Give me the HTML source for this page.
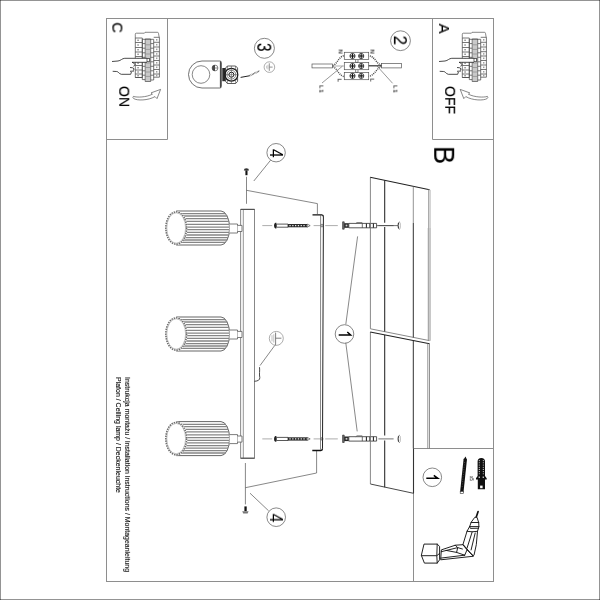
<!DOCTYPE html>
<html>
<head>
<meta charset="utf-8">
<title>Installation instructions</title>
<style>
html,body{margin:0;padding:0;background:#fff;}
body{width:600px;height:600px;overflow:hidden;font-family:"Liberation Sans",sans-serif;}
svg{display:block;will-change:transform;}
text{will-change:transform;}
.dg{stroke:#000;stroke-width:.1;}
.bl{stroke:#000;stroke-width:.12;}
text{font-family:"Liberation Sans",sans-serif;fill:#000;}
.f{fill:none;stroke:#8e8e8e;stroke-width:1;}
.l{fill:none;stroke:#555;stroke-width:.7;}
.g{fill:none;stroke:#8a8a8a;stroke-width:.7;}
.d{fill:none;stroke:#222;stroke-width:1;}
.p{fill:none;stroke:#4a4a4a;stroke-width:.75;}
.w{fill:#fff;stroke:#555;stroke-width:.7;}
</style>
</head>
<body>
<svg width="600" height="600" viewBox="0 0 600 600">
<defs>
<!-- lamp shade, centred on y=0 -->
<g id="lamp">
  <path d="M176.2,-17 H221 A8.6,17 0 0 1 221,17 H176.2Z" fill="#fff" stroke="#4a4a4a" stroke-width=".85"/>
  <path d="M181.3,-14.3H225.8 M183.1,-12H227.2 M184.6,-9.3H228.2 M185.5,-6.7H228.9 M186.1,-3.7H229.4 M186.4,-0.9H229.6 M186.3,1.7H229.6 M186.0,4.3H229.3 M185.4,7H228.9 M184.4,9.6H228.1 M183.1,12H227.2 M181.2,14.4H225.7" fill="none" stroke="#868686" stroke-width="1.3"/>
  <ellipse cx="176.2" cy="0" rx="11.2" ry="17" fill="#fff"/>
  <ellipse cx="176.2" cy="0" rx="10.3" ry="16.1" fill="none" stroke="#6e6e6e" stroke-width="1.7" stroke-dasharray="1.5 .9"/>
  <ellipse cx="176.2" cy="0" rx="9.4" ry="15.2" fill="#fff" stroke="#8a8a8a" stroke-width=".5"/>
  <path d="M229.6,-4H237.5V5H229.6" fill="#fff" stroke="#5a5a5a" stroke-width=".8"/>
  <path d="M237.5,-2.6H242V3.5H237.5" fill="#fff" stroke="#5a5a5a" stroke-width=".8"/>
</g>
<!-- breaker panel + hand (box C coordinates) -->
<g id="panel">
  <path class="l" d="M135.3,38V34.2Q135.3,33.2 136.3,33.2H144.4L145,32.3H157.4Q158.4,32.3 158.5,33.4L159.2,37.3"/>
  <rect x="145.2" y="39" width="5.5" height="42.5" fill="#ececec"/>
  <path class="p" d="M135.3,38V77.5H142.3V38 M135.3,38H142.3 M135.3,42.5H142.3 M135.3,47.5H142.3 M135.3,52H142.3 M135.3,56.5H142.3 M135.3,61H142.3 M135.3,65.5H142.3 M135.3,70H142.3 M135.3,74H142.3 M135.3,77.5H142.3"/>
  <path class="p" d="M153.7,37.3H159.4V77.2H153.7 M153.7,42.3H159.4 M153.7,47H159.4 M153.7,51.7H159.4 M153.7,56H159.4 M153.7,60.5H159.4 M153.7,65H159.4 M153.7,69.5H159.4 M153.7,74H159.4"/>
  <path class="p" d="M142.3,39.3V79.6H145.2 M153.7,39.3V80H150.7 M145.2,39H150.7V81.5H145.2Z M142.3,39.3H153.7"/>
  <path class="p" d="M142.3,43.6H145.2 M142.3,48.2H145.2 M142.3,52.8H145.2 M142.3,57.3H145.2 M142.3,61.8H145.2 M142.3,66.3H145.2 M142.3,70.8H145.2 M142.3,75.2H145.2 M150.7,43.6H153.7 M150.7,48.2H153.7 M150.7,52.8H153.7 M150.7,57.3H153.7 M150.7,61.8H153.7 M150.7,66.3H153.7 M150.7,70.8H153.7 M150.7,75.2H153.7"/>
  <path class="g" d="M147,39V81.5 M149,39V81.5 M145.2,44.800000000000004H150.7 M145.2,49.400000000000006H150.7 M145.2,54.0H150.7 M145.2,58.5H150.7 M145.2,63.0H150.7 M145.2,67.5H150.7 M145.2,72.0H150.7 M145.2,76.4H150.7"/>
  <path class="p" d="M137.2,40.2h1.8 M137.2,45.0h1.8 M137.2,49.8h1.8 M137.2,54.2h1.8 M137.2,58.8h1.8 M137.2,63.2h1.8 M137.2,67.8h1.8 M137.2,72.0h1.8 M137.2,75.8h1.8 M156.8,39.0v1.6 M156.8,43.9v1.6 M156.8,48.6v1.6 M156.8,53.1v1.6 M156.8,57.5v1.6 M156.8,62.0v1.6 M156.8,66.5v1.6 M156.8,71.0v1.6 M156.8,74.8v1.6"/>
  <!-- hand -->
  <path d="M112,61.5L118,61C121,60.6 122,58.4 124.8,58.3H147.4V62.3H132L134.7,64.3L135.3,66L134,68.7L134,71L131.3,72.4L130.7,74.3H121.3C118.6,73.6 118.6,71.6 116.7,71.5L112.7,71.3Z" fill="#fff"/>
  <path d="M112,61.5L118,61C121,60.6 122,58.4 124.8,58.3H147 M132,62.3H147 M132,62.3Q134.2,62.8 134.8,64.4Q135.4,66 133.4,66.2 M130,67.5Q133,67.4 134,68.7Q134.4,70 133,70.2 M130,71.3L134,71 M112.7,71.3L116.7,71.5C118.6,71.6 118.6,73.6 121.3,74.3H130.7L131.4,72" fill="none" stroke="#2a2a2a" stroke-width=".85"/>
  <rect x="147" y="58.5" width="2.5" height="3.2" fill="#fff" stroke="#333" stroke-width=".7"/>
</g>
<!-- wall plug assembly, centred on y=0 -->
<g id="plug">
  <path class="g" d="M262.3,0H272.2 M313.6,0H320.4 M325.2,0H337.8"/>
  <path d="M378.4,0H393.6" fill="none" stroke="#444" stroke-width=".75"/>
  <path d="M276.4,-2.8H275.4Q274,-2.4 274,0Q274,2.4 275.4,2.8H276.4Z" fill="#222"/>
  <path d="M276.4,-1.5H288V1.6H276.4Z" fill="#fff" stroke="#222" stroke-width=".75"/>
  <path d="M288,-1.6H307.2V1.7H288Z" fill="#2a2a2a"/>
  <path d="M289.4,0H306.6" stroke="#e6e6e6" stroke-width="1.3" stroke-dasharray="1.3 1.5" fill="none"/>
  <path d="M307.2,-1.5L310.2,0L307.2,1.6Z" fill="#fff" stroke="#333" stroke-width=".6"/>
  <path d="M342.6,-3.8H344.2V3.6H342.6Z" fill="#777" stroke="#222" stroke-width=".6"/>
  <path d="M344.2,-2.4H348.8V2.2H344.2Z" fill="#222"/><rect x="345.6" y="-1" width="1.8" height="1.8" fill="#ccc"/>
  <path d="M348.8,-2.2H376.6V2.2H348.8Z" fill="#fff" stroke="#2e2e2e" stroke-width=".8"/>
  <path d="M362.3,-2.2V2.2" fill="none" stroke="#333" stroke-width=".7"/><path d="M366.4,-2.2V2.2 M369.9,-2.2V2.2 M373.4,-2.2V2.2" fill="none" stroke="#222" stroke-width="1.05"/><path class="l" d="M355.8,-2.2L357,-3.1H362.3"/>
  <path d="M399.4,-3.5A1.3,3.5 0 0 0 399.4,3.5" fill="none" stroke="#222" stroke-width="1"/><path d="M399.4,-3.5A1,3.5 0 0 1 399.4,3.5" fill="none" stroke="#777" stroke-width=".5"/>
  <ellipse cx="322" cy="0" rx=".9" ry="1.5" fill="none" stroke="#333" stroke-width=".6"/>
</g>
</defs>

<rect width="600" height="600" fill="#fff"/>
<!-- outer page border -->
<path d="M0,.5H600 M0,599.5H600 M.5,0V600 M599.5,0V600" fill="none" stroke="#000" stroke-opacity=".42" stroke-width="1"/>
<!-- inner frame -->
<rect class="f" x="106.5" y="18.5" width="387" height="563"/>
<!-- box C -->
<path class="f" d="M106.5,139.5H167.5V18.5"/>
<!-- box A -->
<path class="f" d="M493.5,139.5H432.5V18.5"/>
<!-- box 1 -->
<path class="f" d="M493.5,448.5H413.5V581.5"/>

<!-- ===== box C ===== -->
<text class="bl" transform="translate(112.4,22.4) rotate(90)" font-size="14.5">C</text>
<use href="#panel"/>
<text class="bl" transform="translate(119.3,86) rotate(90)" font-size="14">ON</text>
<path class="l" d="M133.4,96.4C137,97.6 146,97.4 152.4,94.2L151,92.9L160.6,89.4L157,98.6L155,96.6C148,100.6 137,100.8 133.6,98.5Q132.3,97.4 133.4,96.4Z"/>

<!-- ===== part 3 ===== -->
<path d="M202,61H219.8Q221.5,61 221.5,62.6V86.4Q221.5,88 219.8,88H202A13.5,13.5 0 0 1 202,61Z" fill="#fff" stroke="#444" stroke-width=".75"/>
<path d="M220.4,61.4V87.6" fill="none" stroke="#333" stroke-width="1"/>
<circle class="l" cx="201" cy="74.5" r="8.8"/>
<circle class="l" cx="215" cy="68" r="2.9"/>
<path d="M215,65.1A2.9,2.9 0 0 0 215,70.9Z" fill="#444"/>
<path class="l" d="M212.1,68H217.9"/>
<rect x="222.3" y="68" width="3.6" height="13.2" fill="#2a2a2a"/>
<path d="M227.4,66H235.6L237.6,68V81.4L235.6,83.5H227.4L225.6,81.4V68Z" fill="#fff" stroke="#333" stroke-width=".8"/>
<path d="M225.6,70H227.4V66 M237.6,70H235.6V66 M225.6,79.4H227.4V83.5 M237.6,79.4H235.6V83.5" fill="none" stroke="#444" stroke-width=".6"/>
<circle cx="231.4" cy="74.7" r="6.4" fill="none" stroke="#1a1a1a" stroke-width="1.2"/>
<circle cx="231.4" cy="74.7" r="4.4" fill="none" stroke="#555" stroke-width=".7"/>
<circle cx="231.4" cy="74.7" r="2.5" fill="none" stroke="#1a1a1a" stroke-width="1"/>
<path d="M231.4,66V83.5 M225.6,74.7H237.6" fill="none" stroke="#555" stroke-width=".6"/>
<path class="d" d="M240.6,77.4L249.4,75.8" stroke-width="1"/>
<path d="M249.4,75.8L259.6,70.8" fill="none" stroke="#4a4a4a" stroke-width="1.6" stroke-dasharray=".7 .7"/>
<circle class="l" cx="264.4" cy="48.3" r="10"/>
<text class="dg" transform="translate(257.3,43) rotate(90)" font-size="19.5" textLength="8.6" lengthAdjust="spacingAndGlyphs">3</text>
<circle class="g" cx="269.4" cy="67.1" r="5.3"/>
<path d="M266.6,65.7V68.5 M267.9,64.8V69.4" fill="none" stroke="#999" stroke-width=".55"/><path d="M269.3,63.3V70.9 M269.3,67.1H272.6" fill="none" stroke="#777" stroke-width=".8"/>

<!-- ===== part 2 ===== -->
<circle class="l" cx="400.5" cy="40.7" r="9.9"/>
<text class="dg" transform="translate(393.9,35.6) rotate(90)" font-size="18.6" textLength="9.4" lengthAdjust="spacingAndGlyphs">2</text>
<g id="term">
<rect class="w" x="344.3" y="52.3" width="24.4" height="7.3"/>
<rect class="w" x="344.3" y="62.4" width="24.4" height="7.3"/>
<rect class="w" x="344.3" y="72.4" width="24.4" height="7.3"/>
<path class="l" d="M355.6,59.6V62.4H358V59.6 M355.6,69.7V72.4H358V69.7"/>
</g>
<g id="scr">
<circle cx="352.5" cy="56" r="2.6" fill="#fff" stroke="#2a2a2a" stroke-width=".85"/><path d="M352.5,53.6V58.4" stroke="#111" stroke-width="1.05"/><path d="M350.1,56H354.9" stroke="#111" stroke-width="1.2"/>
</g>
<use href="#scr" x="8.7"/>
<use href="#scr" y="10"/><use href="#scr" x="8.7" y="10"/>
<use href="#scr" y="19.9"/><use href="#scr" x="8.7" y="19.9"/>
<rect class="w" x="312" y="64" width="20.6" height="3.9"/>
<rect class="w" x="381.4" y="63.6" width="20" height="4.3"/>
<path d="M332.6,65.4C337,64.6 338.6,56.4 344.3,55.6" fill="none" stroke="#444" stroke-width="1.5" stroke-dasharray="1 1"/>
<path class="g" d="M332.6,66H344.3"/>
<path d="M332.6,66.8C337,67.6 338.6,75.8 344.3,76.6" fill="none" stroke="#4a4a4a" stroke-width="1.4" stroke-dasharray="1 1"/>
<path d="M381.4,65.2C377,64.4 374.6,56.4 368.7,55.6" fill="none" stroke="#444" stroke-width="1.5" stroke-dasharray="1 1"/>
<path d="M381.4,65.8H368.7" fill="none" stroke="#333" stroke-width="1.2"/>
<path d="M381.4,66.6C377,67.4 374.6,75.6 368.7,76.4" fill="none" stroke="#4a4a4a" stroke-width="1.4" stroke-dasharray="1 1"/>
<path d="M322,83L342.4,66.2 M392.6,83.3L376.8,65.8" fill="none" stroke="#606060" stroke-width=".65"/>
<g font-size="5.4" fill="#111" stroke="#111" stroke-width=".15">
<text transform="translate(338.6,49.6) rotate(90)">N</text>
<text transform="translate(370.4,49.6) rotate(90)">N</text>
<text transform="translate(337.6,78.8) rotate(90)">L</text>
<text transform="translate(370.2,78.6) rotate(90)">L</text>
<text transform="translate(319.4,85.4) rotate(90)">L 1</text>
<text transform="translate(393.4,85.4) rotate(90)">L 1</text>
</g>

<!-- ===== box A ===== -->
<text class="bl" transform="translate(439,23.6) rotate(90)" font-size="15">A</text>
<use href="#panel" x="327"/>
<text class="bl" transform="translate(445.2,86) rotate(90)" font-size="14">OFF</text>
<path class="l" d="M487.4,96.4C483.8,97.6 474.8,97.4 468.4,94.2L469.8,92.9L460.2,89.4L463.8,98.6L465.8,96.6C472.8,100.6 483.8,100.8 487.2,98.5Q488.5,97.4 487.4,96.4Z"/>
<text transform="translate(434.2,145.9) rotate(90) scale(.95,1)" font-size="29">B</text>

<!-- ===== main drawing ===== -->
<!-- lamps -->
<!-- bar -->
<rect x="240.7" y="209.4" width="13.9" height="248.8" fill="#fff" stroke="#6a6a6a" stroke-width=".8"/>
<path d="M243.3,209.4V458.2" fill="none" stroke="#7a7a7a" stroke-width=".8"/>
<path d="M240.7,209.3H254.6 M240.7,458.2H254.6" fill="none" stroke="#444" stroke-width="1"/>
<use href="#lamp" y="228"/>
<use href="#lamp" y="334"/>
<use href="#lamp" y="438.6"/>
<!-- small screws + guide lines -->
<path d="M243.8,170.4Q243.8,168.3 246.4,168.3Q249,168.3 249,170.4Z" fill="#333"/><path d="M245.4,170.4H247.5V175.2H245.4Z" fill="#111"/>
<path class="l" d="M246.5,176.8V203.8 M246.5,190.3L317.4,203.6V214"/>
<path d="M244.4,506.4H246.7V511.2H244.4Z" fill="#111"/><path d="M242.2,511.2H248.6L247.6,513.4H243.2Z" fill="#777"/>
<path class="l" d="M245.4,463V504.4 M245.4,487.7L316.6,473V451"/>
<!-- circles 4 -->
<circle class="l" cx="276.1" cy="152.7" r="9.2"/>
<text class="dg" transform="translate(270,149) rotate(90)" font-size="17.5" textLength="8.6" lengthAdjust="spacingAndGlyphs">4</text>
<path class="l" d="M270.6,160.2L253.8,181"/>
<circle class="l" cx="276.2" cy="517.2" r="9.3"/>
<text class="dg" transform="translate(270,513.7) rotate(90)" font-size="17.5" textLength="8.6" lengthAdjust="spacingAndGlyphs">4</text>
<path class="l" d="M268.6,510.8L250,493.2"/>
<!-- bracket -->
<path d="M320.6,215.4L320.5,449.6" fill="none" stroke="#6a6a6a" stroke-width=".8"/>
<path d="M323.4,216.6L322.5,448.6" fill="none" stroke="#222" stroke-width="1"/>
<path d="M312.5,214.8H321.8Q323.4,214.9 323.4,216.8" fill="none" stroke="#111" stroke-width="1.3"/>
<path d="M312.3,450.5H320.8Q322.5,450.4 322.5,448.4" fill="none" stroke="#111" stroke-width="1.3"/>
<!-- plug assemblies -->
<use href="#plug" y="225.6"/>
<path d="M376.6,225.6H398.2" fill="none" stroke="#444" stroke-width=".75"/>
<use href="#plug" y="438.9"/>
<!-- wall panel -->
<path d="M370.4,328.8V177.3 M370.4,484V332 M370.4,328.8L429.4,340.6 " fill="none" stroke="#747474" stroke-width=".85"/><path d="M370.4,484L413.5,493.3" fill="none" stroke="#333" stroke-width=".9"/>
<path d="M370.2,177.3L429.6,189.7 M370.2,332L429.6,343.7" fill="none" stroke="#222" stroke-width="1.05"/>
<path d="M384.7,180.2V222.8 M384.7,227V331.6 M384.7,335V435.6 M384.7,440.6V487.2" fill="none" stroke="#262626" stroke-width="1.05"/>
<path d="M413.3,186.6V223" fill="none" stroke="#777" stroke-width=".8"/><path d="M413.3,223V337.4 M413.3,340.6V448.5" fill="none" stroke="#262626" stroke-width=".95"/>
<path d="M428.5,189.6V228 M430,189.9V228" fill="none" stroke="#a2a2a2" stroke-width=".9"/><path d="M428.3,228V340.4 M430,228V340.8 M427.8,343.6V448.5 M429.5,343.9V448.5" fill="none" stroke="#767676" stroke-width=".8"/>
<!-- circle 1 + leaders -->
<circle class="l" cx="344.5" cy="334" r="9.3"/>
<path d="M338.7,335H350.6L347.3,332" fill="none" stroke="#000" stroke-width="1.5" stroke-linejoin="miter"/>
<path class="l" d="M345.8,324.3L357.6,236.4 M345.8,342.9L357.2,431.4"/>
<!-- ground symbol + wire -->
<circle class="g" cx="276.3" cy="338.4" r="7"/>
<path d="M272,335.2V341.4 M273.8,334.2V342.6" fill="none" stroke="#999" stroke-width=".6"/><path d="M275.6,332.6V345.2 M275.6,338.2H281.4" fill="none" stroke="#6a6a6a" stroke-width=".85"/>
<path class="l" d="M274.8,345.4L260,365.6"/>
<path d="M259.5,367.2C260,371 259,374 259.8,377.6Q260,381 254.4,381.3" fill="none" stroke="#333" stroke-width=".9"/>

<!-- ===== box 1 ===== -->
<path d="M413.5,448.5V493.3" fill="none" stroke="#333" stroke-width="1.1"/>
<circle class="l" cx="432.3" cy="477.3" r="9.3"/>
<path d="M426.3,478.3H437.8L433.8,475.3" fill="none" stroke="#000" stroke-width="1.5" stroke-linejoin="miter"/>
<path d="M465.3,459L461.8,492" fill="none" stroke="#111" stroke-width="3.4"/>
<path d="M463.6,459.4L465.5,456.4L467,459.8Z" fill="#111"/>
<rect x="460.2" y="491.4" width="3.2" height="2.2" fill="#fff" stroke="#333" stroke-width=".6"/>
<path d="M464.6,462L462,488" fill="none" stroke="#777" stroke-width=".5" stroke-dasharray="1 1.4"/>
<path d="M477.6,476V461.6Q477.6,457.9 481.3,457.9Q485,457.9 485,461.6V476L486.7,478.2V479.6H485V489.3H477.8V479.6H476V478.2Z" fill="#111"/>
<g fill="#e8e8e8"><circle cx="479.3" cy="460.6" r=".55"/><circle cx="483.3" cy="460.6" r=".55"/><circle cx="479.3" cy="462.8" r=".55"/><circle cx="483.3" cy="462.8" r=".55"/><circle cx="479.3" cy="465" r=".55"/><circle cx="483.3" cy="465" r=".55"/><circle cx="479.3" cy="467.2" r=".55"/><circle cx="483.3" cy="467.2" r=".55"/><circle cx="479.3" cy="469.4" r=".55"/><circle cx="483.3" cy="469.4" r=".55"/><circle cx="479.3" cy="471.6" r=".55"/><circle cx="483.3" cy="471.6" r=".55"/><circle cx="479.3" cy="473.8" r=".55"/><circle cx="483.3" cy="473.8" r=".55"/><rect x="480.1" y="485.6" width="2.5" height="2.6" fill="#fff"/><rect x="478.6" y="476.6" width="1.4" height="1.2"/><rect x="482.6" y="476.6" width="1.4" height="1.2"/></g>
<text transform="translate(469.8,476) rotate(90)" font-size="4.6" fill="#555">x5</text>
<!-- drill -->
<g fill="none" stroke="#161616" stroke-width=".95" stroke-linejoin="round" stroke-linecap="round">
<path d="M478.1,511.6L476.2,517.2" stroke-width="1.7" stroke="#111"/>
<path d="M475.2,517.3H477L478.7,522.5L478.9,526.6L477.5,531.3L476.3,544.7L474,555.2L472.8,556.3L462.9,544.7L467,531.3L469.6,526.6L471.1,522.5Z" fill="#fff"/>
<path d="M471.1,522.5H478.7 M469.6,526.6L478.9,526.6 M467,531.3L472.2,531.8L477.5,531.3 M472.2,531.8L467,548.2 M475.2,533L471.1,549.9 M469.6,526.6L470.4,528.4L478.6,528.2"/>
<path d="M462.9,544.7L455.3,545.2L441.3,549.9L440.7,559.8L472.8,556.3Z" fill="#fff"/>
<path d="M441.3,551.7L457.7,547.6L462.4,549 M440.8,558.1L464.7,555.2 M455.3,545.2L457.7,547.6L456.6,552.4L464.7,555.2 M462.9,544.7L467,549.9L472.8,555.2 M467,549.9L464.7,555.2 M446,550.4L456.6,552.4"/>
<path d="M424.4,544.1H437.2L439.6,546.4V559.8L437.2,563.1H424.4L421.5,555.7Z" fill="#fff"/>
<path d="M421.5,555.7H436.8L439.6,553.4 M437.2,544.1L436.8,555.7L437.2,563.1"/>
</g>

<!-- ===== caption text ===== -->
<text transform="translate(125.1,377) rotate(90)" font-size="7.4" fill="#000" stroke="#000" stroke-width=".12" textLength="195" lengthAdjust="spacingAndGlyphs">Instrukcja montażu / installation instructions / Montageanleitung</text>
<text transform="translate(116,377) rotate(90)" font-size="7.4" fill="#000" stroke="#000" stroke-width=".12" textLength="116" lengthAdjust="spacingAndGlyphs">Plafon / Ceiling lamp / Deckenleuchte</text>

</svg>
</body>
</html>
